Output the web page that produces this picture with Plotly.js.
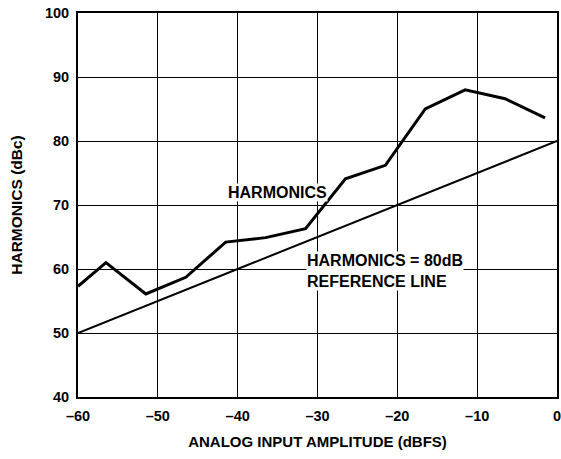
<!DOCTYPE html>
<html><head><meta charset="utf-8">
<script src="https://cdn.plot.ly/plotly-3.0.1.min.js"></script>
<style>body{margin:0;background:#fff}#c{width:561px;height:459px}</style>
</head><body><div id="c"></div>
<script>
const amplitude = [-60, -56.5, -51.5, -46.5, -41.5, -36.5, -31.5, -26.5, -21.5, -16.5, -11.5, -6.5, -1.5];
const harmonics = [57.3, 61.0, 56.1, 58.7, 64.2, 64.9, 66.3, 74.1, 76.2, 85.0, 88.0, 86.6, 83.6];
const refX = [-60, 0];
const refY = [50, 80];
const xTicks = [-60, -50, -40, -30, -20, -10, 0];
const xTickText = ['–60', '–50', '–40', '–30', '–20', '–10', '0'];
const yTicks = [40, 50, 60, 70, 80, 90, 100];

const font = {family: 'Liberation Sans, Arial, sans-serif', color: '#000'};
const traces = [
  {x: refX, y: refY, mode: 'lines', line: {color: '#000', width: 2}, hoverinfo: 'skip'},
  {x: amplitude, y: harmonics, mode: 'lines', line: {color: '#000', width: 3}, hoverinfo: 'skip'}
];
const layout = {
  width: 561, height: 459,
  margin: {l: 78, r: 4, t: 13, b: 62},
  paper_bgcolor: '#fff', plot_bgcolor: '#fff',
  showlegend: false,
  font: Object.assign({size: 12}, font),
  xaxis: {
    range: [-60, 0], tickvals: xTicks, ticktext: xTickText,
    showgrid: true, gridcolor: '#000', gridwidth: 1,
    showline: true, linecolor: '#000', linewidth: 2, mirror: true,
    zeroline: false, ticks: '', ticklabelstandoff: 5, ticklabeloverflow: 'allow',
    tickfont: Object.assign({size: 14.5, weight: 'bold'}, font),
    title: {text: '<b>ANALOG INPUT AMPLITUDE (dBFS)</b>', font: Object.assign({size: 15}, font), standoff: 13}
  },
  yaxis: {
    range: [40, 100], tickvals: yTicks,
    showgrid: true, gridcolor: '#000', gridwidth: 1,
    showline: true, linecolor: '#000', linewidth: 2, mirror: true,
    zeroline: false, ticks: '', ticklabelstandoff: 4,
    tickfont: Object.assign({size: 14.5, weight: 'bold'}, font),
    title: {text: '<b>HARMONICS (dBc)</b>', font: Object.assign({size: 15.5}, font), standoff: 18}
  },
  annotations: [
    {x: -35, y: 72.0, xref: 'x', yref: 'y', text: '<b>HARMONICS</b>', showarrow: false,
     bgcolor: '#fff', font: Object.assign({size: 16}, font), borderpad: 0},
    {x: -31.4, y: 59.7, xref: 'x', yref: 'y', xanchor: 'left', align: 'left',
     text: '<b>HARMONICS = 80dB<br>REFERENCE LINE</b>', showarrow: false,
     bgcolor: '#fff', font: Object.assign({size: 16}, font), borderpad: 0}
  ]
};
Plotly.newPlot('c', traces, layout, {displayModeBar: false, staticPlot: true});
</script></body></html>
